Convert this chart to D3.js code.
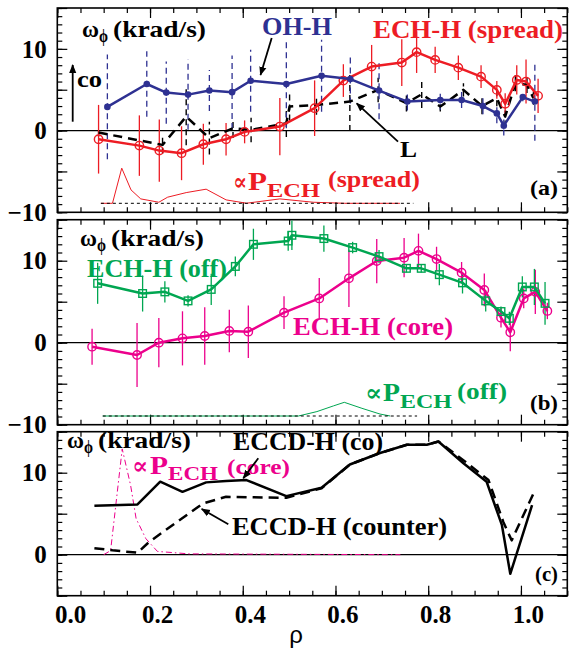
<!DOCTYPE html>
<html><head><meta charset="utf-8">
<script src="https://cdn.jsdelivr.net/npm/d3@7"></script>
<style>
body{margin:0;background:#fff}
svg{display:block}
svg text{font-family:"Liberation Serif","DejaVu Serif",serif;font-weight:bold}
svg text.sans{font-family:"Liberation Sans","DejaVu Sans",sans-serif;font-weight:normal}
</style>
</head><body>
<svg id="chart" width="576" height="653"></svg>
<script>
// ---------- panel (a): OH-H, ECH-H (spread), L-mode ----------
const rhoOH   = [0.108,0.193,0.235,0.282,0.328,0.377,0.417,0.494,0.570,0.632,0.694,0.755,0.826,0.872,0.918,0.948,0.963,1.004,1.030];
const omegaOH = [2.9,5.7,4.65,4.4,4.9,4.7,6.1,5.7,6.7,6.3,4.9,3.55,3.75,3.75,3.0,2.1,0.6,4.1,3.55];
const errOH   = [6.4,4.0,3.8,4.3,2.5,4.5,3.8,5.4,4.4,3.0,3.5,1.1,1.2,1.0,1.0,1.2,1.2,0.5,4.8];

const rhoSpread   = [0.089,0.177,0.220,0.268,0.315,0.364,0.404,0.480,0.555,0.617,0.678,0.743,0.775,0.815,0.865,0.914,0.948,0.966,0.991,1.011,1.037];
const omegaSpread = [-1.06,-1.84,-2.45,-2.77,-1.67,-1.06,-0.16,0.49,2.74,6.12,7.83,8.32,9.6,8.65,7.7,6.6,4.98,3.27,6.2,6.0,4.25];
const errSpread   = [4.2,3.7,3.8,3.3,2.5,2.0,1.4,3.5,3.4,2.0,2.65,2.85,2.55,1.6,1.5,1.4,1.1,1.3,1.8,2.7,2.1];

const rhoL   = [0.089,0.227,0.278,0.328,0.379,0.418,0.494,0.501,0.559,0.631,0.692,0.753,0.786,0.826,0.876,0.916,0.948,0.966,0.988,1.013,1.027];
const omegaL = [-0.24,-1.75,1.71,-0.93,0.29,0.08,0.9,2.94,3.14,3.55,4.98,3.35,4.45,2.94,4.98,3.0,3.97,1.71,5.8,5.6,3.97];
const errL   = [0.5,1.1,3.5,2.0,1.2,1.5,1.7,1.7,1.2,3.6,1.5,1.0,1.7,0.6,0.8,1.0,1.0,1.2,1.0,1.0,0.8];

// heating power profile (arb. units, drawn on the ω scale)
const rhoPSpread = [0.094,0.119,0.139,0.159,0.180,0.219,0.238,0.278,0.321,0.364,0.408,0.480,0.552,0.620,0.739];
const pSpread    = [-8.9,-8.9,-4.6,-7.26,-8.36,-8.77,-8.15,-7.59,-7.17,-8.48,-8.89,-8.36,-8.77,-8.9,-8.9];
const baseSpread = {from:0.094, to:0.768, level:-8.9};

// ---------- panel (b): ECH-H (off) and ECH-H (core) ----------
const rhoOff   = [0.087,0.184,0.232,0.282,0.332,0.384,0.423,0.498,0.506,0.575,0.637,0.694,0.753,0.785,0.824,0.874,0.924,0.957,0.975,1.003,1.029,1.052];
const omegaOff = [7.24,6.0,6.2,5.1,6.5,9.3,12.0,12.4,13.1,12.7,11.6,10.5,9.07,9.07,8.3,7.3,5.1,3.8,2.97,6.8,6.8,4.8];
const errOff   = [2.5,2.2,1.3,0.7,1.9,1.2,1.9,1.2,1.8,1.6,0.7,0.8,0.5,0.5,1.3,1.3,1.3,0.6,0.8,1.3,2.2,2.6];

const rhoCore   = [0.075,0.172,0.219,0.270,0.318,0.371,0.412,0.489,0.565,0.629,0.689,0.748,0.779,0.818,0.872,0.921,0.957,0.977,1.006,1.031,1.057];
const omegaCore = [-0.49,-1.5,0,0.53,0.82,1.43,1.34,3.66,5.4,7.85,9.96,10.37,11.2,10.2,8.54,6.43,3.05,1.27,5.4,6.2,3.87];
const errCore   = [2.2,3.9,3.0,3.3,3.5,2.6,3.2,2.0,2.5,3.5,2.7,2.4,2.1,1.5,1.3,2.0,1.2,2.3,1.2,2.7,1.0];

const rhoPOff = [0.098,0.52,0.56,0.596,0.619,0.657,0.696,0.718];
const pOff    = [-8.94,-8.94,-8.4,-7.7,-7.27,-8.0,-8.7,-8.94];
const baseOff = {from:0.098, to:0.776, level:-8.94};

// ---------- panel (c): ECCD-H co / counter ----------
const rhoCo   = [0.080,0.173,0.222,0.270,0.321,0.364,0.408,0.494,0.570,0.631,0.696,0.754,0.797,0.822,0.876,0.926,0.959,0.977,1.024];
const omegaCo = [5.96,6.13,8.9,7.67,8.82,8.98,9.1,7.14,8.16,11.0,12.4,13.4,13.4,13.8,11.15,8.9,3.6,-2.33,6.04];

const rhoCounter   = [0.080,0.119,0.173,0.198,0.314,0.364,0.494,0.570,0.631,0.696,0.754,0.797,0.822,0.880,0.930,0.962,0.980,1.027];
const omegaCounter = [0.8,0.53,0.24,1.55,6.25,7.06,6.94,8.1,11.0,12.4,13.4,13.4,13.8,11.35,9.1,4.0,1.75,7.47];

const rhoPCore = [0.100,0.115,0.140,0.158,0.170,0.191,0.216,0.285,0.740];
const pCore    = [0,0.5,12.9,8.5,4.4,1.96,0.4,0.1,0];

// axis ticks
const xMajor = [0,0.2,0.4,0.6,0.8,1.0];
const xLabels = ["0.0","0.2","0.4","0.6","0.8","1.0"];

// ---------- drawing ----------
const C = {blue:"#2e3192", red:"#ed1c24", green:"#00a651", magenta:"#ec008c", black:"#000"};

const svg = d3.select("#chart");
const x = d3.scaleLinear().domain([0,1.1]).range([57.3,567.3]);

const defs = svg.append("defs");
defs.append("marker").attr("id","ah").attr("viewBox","0 0 10 10").attr("refX",9).attr("refY",5)
  .attr("markerWidth",9).attr("markerHeight",9).attr("markerUnits","userSpaceOnUse").attr("orient","auto")
  .append("path").attr("d","M0,1 L10,5 L0,9 Z").attr("fill","#000");

const panels = [
  {key:"a", domain:[-10,15], range:[212.3,8.0], ylabels:[-10,0,10]},
  {key:"b", domain:[-10,15], range:[424.7,219.7], ylabels:[-10,0,10]},
  {key:"c", domain:[-5,15], range:[595.7,431.7], ylabels:[0,10]}
];

function pts(r, v){ return r.map((d,i)=>({r:d, v:v[i]})); }

function drawFrame(p){
  const y = d3.scaleLinear().domain(p.domain).range(p.range);
  const g = svg.append("g");
  const [x0,x1] = x.range(), [yb,yt] = p.range;
  g.append("line").attr("x1",x0).attr("x2",x1).attr("y1",y(0)).attr("y2",y(0)).attr("stroke","#000").attr("stroke-width",1.3);
  const yMinor = d3.range(p.domain[0], p.domain[1]+0.01, 1);
  const yMaj = yMinor.filter(v=>v%5===0);
  const xMinor = d3.range(0, 1.1001, 0.05);
  const tick = (ax)=>ax.tickFormat("").tickSizeOuter(0);
  const axes = [
    [d3.axisLeft(y).tickValues(yMinor).tickSize(-5), `translate(${x0},0)`],
    [d3.axisLeft(y).tickValues(yMaj).tickSize(-10), `translate(${x0},0)`],
    [d3.axisRight(y).tickValues(yMinor).tickSize(-5), `translate(${x1},0)`],
    [d3.axisRight(y).tickValues(yMaj).tickSize(-10), `translate(${x1},0)`],
    [d3.axisBottom(x).tickValues(xMinor).tickSize(-5), `translate(0,${yb})`],
    [d3.axisBottom(x).tickValues(xMajor).tickSize(-10), `translate(0,${yb})`],
    [d3.axisTop(x).tickValues(xMinor).tickSize(-5), `translate(0,${yt})`],
    [d3.axisTop(x).tickValues(xMajor).tickSize(-10), `translate(0,${yt})`]
  ];
  axes.forEach(([ax,tr])=>{
    const a = g.append("g").attr("transform",tr).call(tick(ax));
    a.select(".domain").remove();
    a.selectAll("line").attr("stroke","#000").attr("stroke-width",1.2);
  });
  const yl = g.append("g").attr("transform",`translate(${x0},0)`)
    .call(d3.axisLeft(y).tickValues(p.ylabels).tickSize(0).tickPadding(10.5).tickFormat(d3.format("d")));
  yl.select(".domain").remove();
  yl.attr("font-family",null).attr("font-size",null);
  yl.selectAll("text").style("font-size","25px").attr("fill","#000").attr("dy","0.33em");
  g.append("rect").attr("x",x0).attr("y",yt).attr("width",x1-x0).attr("height",yb-yt)
    .attr("fill","none").attr("stroke","#000").attr("stroke-width",1.6);
  return {g, y};
}

function errBars(g, y, r, v, e, color, dash, sw){
  g.append("g").selectAll("line").data(r.map((d,i)=>({r:d, v:v[i], e:e[i]}))).join("line")
    .attr("x1",d=>x(d.r)).attr("x2",d=>x(d.r)).attr("y1",d=>y(d.v-d.e)).attr("y2",d=>y(d.v+d.e))
    .attr("stroke",color).attr("stroke-width",sw||1.3).attr("stroke-dasharray",dash||null);
}
function curve(g, y, data, color, sw, dash){
  g.append("path").datum(data).attr("d", d3.line().x(d=>x(d.r)).y(d=>y(d.v)))
    .attr("fill","none").attr("stroke",color).attr("stroke-width",sw).attr("stroke-dasharray",dash||null)
    .attr("stroke-linejoin","round");
}
function baseLine(g, y, b){
  g.append("line").attr("x1",x(b.from)).attr("x2",x(b.to)).attr("y1",y(b.level)).attr("y2",y(b.level))
    .attr("stroke","#000").attr("stroke-width",1).attr("stroke-dasharray","3,3");
}
function txt(s, xx, yy, size, w, color){
  const t = svg.append("text").attr("x",xx).attr("y",yy).style("font-size",size+"px")
    .attr("fill",color||"#000").text(s);
  if (w) t.attr("textLength",w).attr("lengthAdjust","spacingAndGlyphs");
  return t;
}
function arrow(x1,y1,x2,y2){
  svg.append("line").attr("x1",x1).attr("y1",y1).attr("x2",x2).attr("y2",y2)
    .attr("stroke","#000").attr("stroke-width",1.8).attr("marker-end","url(#ah)");
}
function omegaLabel(x0, yb){
  txt("ω", x0, yb, 24, 17);
  txt("ϕ", x0+17, yb+5, 19, 9);
  txt("(krad/s)", x0+31, yb, 23, 93);
}

// panel (a)
{
  const {g, y} = drawFrame(panels[0]);
  curve(g, y, pts(rhoPSpread, pSpread), C.red, 1);
  baseLine(g, y, baseSpread);
  errBars(g, y, rhoL, omegaL, errL, C.black, "6,4", 1.4);
  errBars(g, y, rhoSpread, omegaSpread, errSpread, C.red, null, 1.3);
  errBars(g, y, rhoOH, omegaOH, errOH, C.blue, "6,4", 1.3);
  curve(g, y, pts(rhoL, omegaL), C.black, 2.5, "9,6");
  curve(g, y, pts(rhoSpread, omegaSpread), C.red, 2.5);
  g.append("g").selectAll("circle").data(pts(rhoSpread, omegaSpread)).join("circle")
    .attr("cx",d=>x(d.r)).attr("cy",d=>y(d.v)).attr("r",4.2).attr("fill","none").attr("stroke",C.red).attr("stroke-width",1.4);
  curve(g, y, pts(rhoOH, omegaOH), C.blue, 2.5);
  g.append("g").selectAll("circle").data(pts(rhoOH, omegaOH)).join("circle")
    .attr("cx",d=>x(d.r)).attr("cy",d=>y(d.v)).attr("r",3.3).attr("fill",C.blue);

  omegaLabel(82, 37);
  txt("co", 77, 87, 24, 25);
  arrow(72.7, 121.7, 72.7, 65);
  txt("OH-H", 262, 35, 25, 70, C.blue);
  arrow(271.7, 38, 260.5, 75);
  txt("ECH-H (spread)", 373, 38, 25, 190, C.red);
  txt("L", 400, 157, 23, 17);
  arrow(398, 141.7, 356.7, 103.3);
  txt("∝", 233, 190, 24, 14, C.red);
  txt("P", 248, 190, 25, 19, C.red);
  txt("ECH", 267, 197, 18, 53, C.red);
  txt("(spread)", 328, 187, 24, 92, C.red);
  txt("(a)", 530, 195, 22, 28);
}

// panel (b)
{
  const {g, y} = drawFrame(panels[1]);
  curve(g, y, pts(rhoPOff, pOff), C.green, 1);
  baseLine(g, y, baseOff);
  errBars(g, y, rhoCore, omegaCore, errCore, C.magenta, null, 1.3);
  errBars(g, y, rhoOff, omegaOff, errOff, C.green, null, 1.3);
  curve(g, y, pts(rhoCore, omegaCore), C.magenta, 2.5);
  g.append("g").selectAll("circle").data(pts(rhoCore, omegaCore)).join("circle")
    .attr("cx",d=>x(d.r)).attr("cy",d=>y(d.v)).attr("r",4.2).attr("fill","none").attr("stroke",C.magenta).attr("stroke-width",1.4);
  curve(g, y, pts(rhoOff, omegaOff), C.green, 2.5);
  g.append("g").selectAll("rect").data(pts(rhoOff, omegaOff)).join("rect")
    .attr("x",d=>x(d.r)-3.8).attr("y",d=>y(d.v)-3.8).attr("width",7.6).attr("height",7.6)
    .attr("fill","none").attr("stroke",C.green).attr("stroke-width",1.4);

  omegaLabel(80, 246);
  txt("ECH-H (off)", 87, 277, 25, 140, C.green);
  txt("ECH-H (core)", 293, 335, 25, 160, C.magenta);
  txt("∝", 365, 401, 24, 17, C.green);
  txt("P", 383, 401, 25, 17, C.green);
  txt("ECH", 400, 408, 18, 52, C.green);
  txt("(off)", 457, 399, 24, 50, C.green);
  txt("(b)", 530, 410, 22, 28);
}

// panel (c)
{
  const {g, y} = drawFrame(panels[2]);
  curve(g, y, pts(rhoPCore, pCore), C.magenta, 1, "6,3,1.5,3");
  curve(g, y, pts(rhoCounter, omegaCounter), C.black, 2.5, "10,6");
  curve(g, y, pts(rhoCo, omegaCo), C.black, 2.5);

  omegaLabel(67, 448);
  txt("∝", 132, 474, 24, 16, C.magenta);
  txt("P", 150, 474, 25, 18, C.magenta);
  txt("ECH", 168, 480, 18, 50, C.magenta);
  txt("(core)", 227, 474, 22, 63, C.magenta);
  txt("ECCD-H (co)", 233, 450, 25, 150);
  arrow(258.3, 458.3, 243.3, 478.3);
  txt("ECCD-H (counter)", 232, 535, 25, 215);
  arrow(228.3, 524.3, 201.7, 509);
  txt("(c)", 535, 581, 22, 23);

  const xl = svg.append("g").attr("transform",`translate(0,${panels[2].range[0]})`)
    .call(d3.axisBottom(x).tickValues(xMajor).tickSize(0).tickPadding(10).tickFormat((d,i)=>xLabels[i]));
  xl.select(".domain").remove();
  xl.attr("font-family",null).attr("font-size",null);
  xl.selectAll("text").style("font-size","25px").attr("fill","#000")
    .attr("dx",(d,i)=>i===0?12.7:7);
  txt("ρ", 296, 643, 24, null, "#000").attr("class","sans").attr("text-anchor","middle");
}
</script>
</body></html>
